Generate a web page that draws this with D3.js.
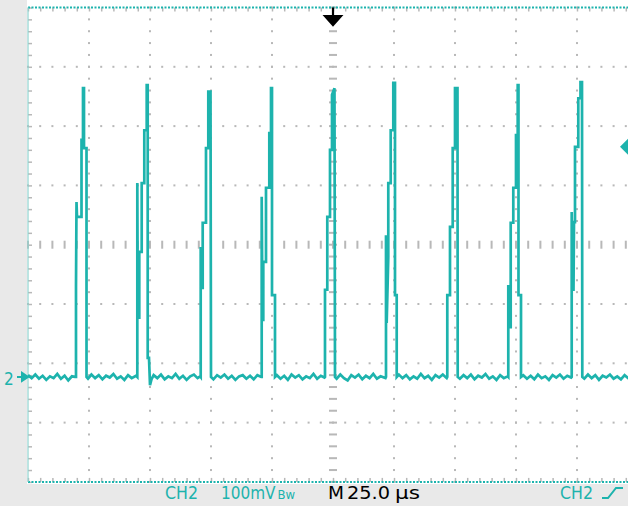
<!DOCTYPE html>
<html>
<head>
<meta charset="utf-8">
<script src="https://cdn.jsdelivr.net/npm/d3@7"></script>
<style>
  body { margin: 0; background: #fff; }
  svg { display: block; }
  .status { font-family: "DejaVu Sans Condensed", "Liberation Sans Narrow", sans-serif; font-size: 17px; }
</style>
</head>
<body>
<div id="scope"></div>
<script>
const FRAME_WIDTH = 628;
const FRAME_HEIGHT = 510;
const GRID = {left: 28, top: 7.5, width: 610, height: 474.4};

const TEAL = "#1db3ad";
const DOT = "#b8b8b8";

// scope settings
const TIME_DIVS = 10;
const VOLT_DIVS = 8;
const TIME_PER_DIV = 25;      // us
const VOLTS_PER_DIV = 100;    // mV
const CH2_OFFSET = -223;      // mV, ground marker relative to screen centre
const TRIGGER_TIME = 125;     // us
const TRIGGER_LEVEL = 388;    // mV above ground

// trace, [time us, mV above ground]
const NOISE_0 = [[0,3],[1.5,-2],[3,4],[4.5,-3],[6,2],[7.5,-5],[9,1],[10.5,-2],[12,5],[13.5,-3],[15,2],[16.5,-6],[18,1],[19.26,0]];
const PULSE_1 = [[19.67,0],[19.67,152],[19.88,295],[20.08,270],[21.93,270],[21.93,400],[22.54,400],[22.54,487],[22.95,487],[22.95,386],[23.98,386],[23.98,0]];
const NOISE_1 = [[24.6,-3],[26,4],[27.5,-2],[29,3],[30.5,-4],[32,2],[33.5,-1],[35,5],[36.5,-3],[38,1],[39.5,-5],[41,3],[42.5,-2],[44.3,2]];
const PULSE_2 = [[44.80,0],[44.80,327],[45.0,100],[45.61,100],[45.61,211],[46.60,211],[46.60,327],[47.66,327],[47.66,416],[48.65,416],[48.65,492],[49.06,492],[49.06,32],[49.59,32],[50.0,-14],[50.6,-4]];
const NOISE_2 = [[51.5,3],[53,-2],[54.5,4],[56,-4],[57.5,1],[59,-2],[60.5,5],[62,-3],[63.5,2],[65,-5],[66.5,1],[68,4],[69.5,-2],[70.6,1]];
const PULSE_3 = [[70.78,0],[70.78,219],[71.11,150],[71.60,150],[71.60,260],[72.95,260],[72.95,386],[73.89,386],[73.89,481],[74.80,481],[75.0,0]];
const NOISE_3 = [[76,-4],[77.5,3],[79,-1],[80.5,4],[82,-3],[83.5,2],[85,-5],[86.5,1],[88,3],[89.5,-3],[91,2],[92.5,-4],[94,3],[95.6,0]];
const PULSE_4 = [[95.78,0],[95.78,304],[96.11,96],[96.43,96],[96.43,194],[97.54,194],[97.54,319],[98.89,319],[98.89,411],[99.59,411],[99.59,487],[100.0,487],[100.0,138],[101.23,138],[101.23,0]];
const NOISE_4 = [[102,3],[103.5,-3],[105,2],[106.5,-5],[108,4],[109.5,-1],[111,3],[112.5,-4],[114,1],[115.5,-2],[117,5],[118.5,-3],[120,2],[121.5,-1]];
const PULSE_5 = [[121.72,0],[121.72,147],[122.66,147],[122.66,270],[123.77,270],[123.77,383],[124.59,383],[124.59,476],[125.61,487],[125.82,0]];
const NOISE_5 = [[126.5,-3],[128,4],[129.5,-2],[131,-6],[132.5,3],[134,-1],[135.5,4],[137,-4],[138.5,2],[140,-2],[141.5,5],[143,-3],[144.5,1],[146.5,-2]];
const PULSE_6 = [[146.72,0],[146.72,239],[147.0,91],[147.66,202],[147.66,327],[148.65,327],[148.65,416],[149.71,416],[149.71,496],[150.41,496],[150.41,138],[151.11,138],[151.11,0]];
const NOISE_6 = [[152,4],[153.5,-2],[155,3],[156.5,-4],[158,1],[159.5,-3],[161,5],[162.5,-2],[164,2],[165.5,-5],[167,3],[168.5,-1],[170,4],[171.6,-2]];
const PULSE_7 = [[171.84,0],[171.84,138],[172.95,138],[172.95,253],[174.06,253],[174.06,386],[175.0,386],[175.0,487],[176.02,487],[176.11,0]];
const NOISE_7 = [[177,-3],[178.5,3],[180,-2],[181.5,4],[183,-4],[184.5,2],[186,-1],[187.5,5],[189,-3],[190.5,1],[192,-5],[193.5,3],[195,-2],[196.6,1]];
const PULSE_8 = [[196.84,0],[196.84,155],[197.34,84],[197.83,84],[197.83,260],[198.89,260],[198.89,319],[200.0,319],[200.0,408],[200.70,408],[200.70,492],[201.02,492],[201.02,138],[202.05,138],[202.05,0]];
const NOISE_8 = [[203,3],[204.5,-3],[206,2],[207.5,-4],[209,4],[210.5,-2],[212,1],[213.5,-5],[215,3],[216.5,-1],[218,4],[219.5,-3],[221,2],[222.6,-1]];
const PULSE_9 = [[222.83,0],[222.83,278],[223.16,147],[223.57,147],[223.77,261],[224.18,261],[224.18,388],[225.53,388],[225.53,470],[226.43,470],[226.43,497],[227.05,497],[227.17,0]];
const NOISE_9 = [[228,-3],[229.5,4],[231,-2],[232.5,3],[234,-5],[235.5,2],[237,-1],[238.5,4],[240,-3],[241.5,1],[243,-4],[244.5,3],[246,-2],[247.5,2],[250,-1]];

const TRACE = [].concat(NOISE_0, PULSE_1, NOISE_1, PULSE_2, NOISE_2, PULSE_3, NOISE_3,
  PULSE_4, NOISE_4, PULSE_5, NOISE_5, PULSE_6, NOISE_6, PULSE_7, NOISE_7,
  PULSE_8, NOISE_8, PULSE_9, NOISE_9);

const X_SCALE = d3.scaleLinear()
  .domain([0, TIME_DIVS * TIME_PER_DIV])
  .range([GRID.left, GRID.left + GRID.width]);

// screen volts, centre = 0
const Y_SCALE = d3.scaleLinear()
  .domain([-VOLT_DIVS / 2 * VOLTS_PER_DIV, VOLT_DIVS / 2 * VOLTS_PER_DIV])
  .range([GRID.top + GRID.height, GRID.top]);

const yCh2 = (mv) => Y_SCALE(mv + CH2_OFFSET);

const SVG = d3.select("#scope")
  .append("svg")
    .attr("width", FRAME_WIDTH)
    .attr("height", FRAME_HEIGHT);

// grey bezel bits
SVG.append("rect").attr("x", 0).attr("y", 0).attr("width", GRID.left - 1).attr("height", 506).attr("fill", "#e9e9e9");
SVG.append("rect").attr("x", 0).attr("y", 484).attr("width", FRAME_WIDTH).attr("height", 22).attr("fill", "#e9e9e9");
SVG.append("rect").attr("x", GRID.left).attr("y", GRID.top).attr("width", FRAME_WIDTH - GRID.left).attr("height", GRID.height).attr("fill", "#fff");

const minorT = d3.range(0, TIME_DIVS * TIME_PER_DIV + 0.01, TIME_PER_DIV / 5);
const minorV = d3.range(-400, 400.01, VOLTS_PER_DIV / 5);
const majorT = d3.range(TIME_PER_DIV, TIME_DIVS * TIME_PER_DIV, TIME_PER_DIV).filter(d => d !== TRIGGER_TIME);
const majorV = d3.range(-300, 301, VOLTS_PER_DIV).filter(d => d !== 0);

// dotted grid
const gridDots = [];
majorT.forEach(t => minorV.forEach(v => gridDots.push([t, v])));
majorV.forEach(v => minorT.forEach(t => gridDots.push([t, v])));
SVG.append("g").selectAll("rect")
  .data(gridDots)
  .enter()
  .append("rect")
    .attr("x", d => X_SCALE(d[0]) - 1)
    .attr("y", d => Y_SCALE(d[1]) - 1)
    .attr("width", 2)
    .attr("height", 2)
    .attr("fill", DOT);

// centre cross with ticks
SVG.append("g").selectAll("rect")
  .data(minorV)
  .enter()
  .append("rect")
    .attr("x", X_SCALE(TRIGGER_TIME) - 4)
    .attr("y", d => Y_SCALE(d) - 1)
    .attr("width", 8)
    .attr("height", 2)
    .attr("fill", DOT);
SVG.append("g").selectAll("rect")
  .data(minorT)
  .enter()
  .append("rect")
    .attr("x", d => X_SCALE(d) - 1)
    .attr("y", Y_SCALE(0) - 4)
    .attr("width", 2)
    .attr("height", 8)
    .attr("fill", DOT);

// border ticks
const tickAxis = (g) => {
  g.selectAll(".domain").remove();
  g.selectAll(".tick line").attr("stroke", DOT).attr("stroke-width", 1.5);
};
SVG.append("g")
  .attr("transform", "translate(0," + GRID.top + ")")
  .call(d3.axisBottom(X_SCALE).tickValues(minorT).tickSize(4).tickFormat(""))
  .call(tickAxis);
SVG.append("g")
  .attr("transform", "translate(0," + (GRID.top + GRID.height) + ")")
  .call(d3.axisTop(X_SCALE).tickValues(minorT).tickSize(4).tickFormat(""))
  .call(tickAxis);
SVG.append("g")
  .attr("transform", "translate(" + GRID.left + ",0)")
  .call(d3.axisRight(Y_SCALE).tickValues(minorV).tickSize(4).tickFormat(""))
  .call(tickAxis);

// teal dotted border
[GRID.top, GRID.top + GRID.height].forEach(y => {
  SVG.append("line")
    .attr("x1", GRID.left).attr("x2", FRAME_WIDTH)
    .attr("y1", y).attr("y2", y)
    .attr("stroke", TEAL).attr("stroke-width", 2).attr("stroke-dasharray", "2,1.5");
});
SVG.append("line")
  .attr("x1", GRID.left).attr("x2", GRID.left)
  .attr("y1", GRID.top).attr("y2", GRID.top + GRID.height)
  .attr("stroke", "#8fd3cf").attr("stroke-width", 1.2);

// the trace
const line = d3.line()
  .x(d => X_SCALE(d[0]))
  .y(d => yCh2(d[1]));
SVG.append("path")
  .datum(TRACE)
  .attr("d", line)
  .attr("fill", "none")
  .attr("stroke", TEAL)
  .attr("stroke-width", 2.7)
  .attr("stroke-linejoin", "miter");

// trigger position arrow
const tx = X_SCALE(TRIGGER_TIME);
SVG.append("path")
  .attr("d", `M${tx},${GRID.top} V19 M${tx - 8},16 H${tx + 8} L${tx},25 Z`)
  .attr("stroke", "#000").attr("stroke-width", 2.2).attr("fill", "#000");

// trigger level marker
const ty = yCh2(TRIGGER_LEVEL);
SVG.append("path")
  .attr("d", `M${FRAME_WIDTH - 8},${ty} L${FRAME_WIDTH},${ty - 8} L${FRAME_WIDTH},${ty + 8} Z`)
  .attr("fill", TEAL);

// ground marker "2"
const gy = yCh2(0);
SVG.append("text")
  .attr("x", 4).attr("y", gy + 8)
  .attr("class", "status")
  .attr("font-size", 21)
  .attr("fill", TEAL)
  .text("2");
SVG.append("path")
  .attr("d", `M17,${gy} H${GRID.left} M${GRID.left - 6},${gy - 4} L${GRID.left},${gy} L${GRID.left - 6},${gy + 4} Z`)
  .attr("stroke", TEAL).attr("stroke-width", 2).attr("fill", TEAL);

// status line
const STATUS = [
  {text: "CH2", x: 165, w: 33, color: TEAL},
  {text: "M", x: 328, w: 16, color: "#000"},
  {text: "25.0", x: 347, w: 43, color: "#000"},
  {text: "\u00b5s", x: 395, w: 25, color: "#000"},
  {text: "CH2", x: 560, w: 33, color: TEAL}
];
SVG.append("g").selectAll("text")
  .data(STATUS)
  .enter()
  .append("text")
    .attr("class", "status")
    .attr("x", d => d.x)
    .attr("y", 499)
    .attr("textLength", d => d.w)
    .attr("lengthAdjust", "spacingAndGlyphs")
    .attr("fill", d => d.color)
    .text(d => d.text);

// volts/div with bandwidth-limit flag
const vdiv = SVG.append("text")
  .attr("class", "status")
  .attr("x", 221)
  .attr("y", 499)
  .attr("fill", TEAL);
vdiv.append("tspan").text(VOLTS_PER_DIV + "mV");
vdiv.append("tspan").attr("font-size", 13).attr("dx", 2).text("Bw");

// rising edge slope icon
SVG.append("path")
  .attr("d", "M602,498 H608 L616,488 H623")
  .attr("fill", "none").attr("stroke", TEAL).attr("stroke-width", 2);
</script>
</body>
</html>
